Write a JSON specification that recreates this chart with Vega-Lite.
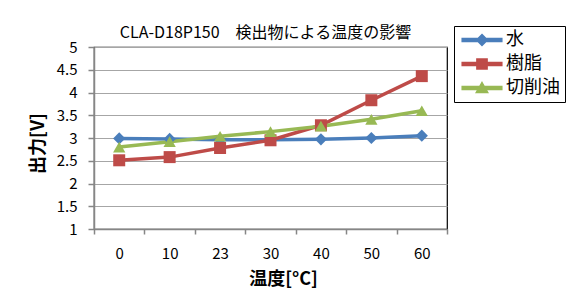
{
  "$schema": "https://vega.github.io/schema/vega-lite/v6.json",
  "width": 353,
  "height": 182,
  "autosize": "none",
  "padding": {"left": 94, "top": 47, "right": 134, "bottom": 66},
  "background": "white",
  "title": {
    "text": "CLA-D18P150　検出物による温度の影響",
    "fontSize": 16,
    "font": "Noto Sans CJK JP",
    "fontWeight": "normal",
    "color": "#000",
    "anchor": "middle",
    "offset": 6,
    "dy": 21,
    "dx": -5
  },
  "data": {
    "values": [
      {"temp": "0", "series": "水", "v": 2.99},
      {"temp": "10", "series": "水", "v": 2.98},
      {"temp": "23", "series": "水", "v": 2.96},
      {"temp": "30", "series": "水", "v": 2.96},
      {"temp": "40", "series": "水", "v": 2.97},
      {"temp": "50", "series": "水", "v": 3.0},
      {"temp": "60", "series": "水", "v": 3.05},
      {"temp": "0", "series": "樹脂", "v": 2.51},
      {"temp": "10", "series": "樹脂", "v": 2.58},
      {"temp": "23", "series": "樹脂", "v": 2.78},
      {"temp": "30", "series": "樹脂", "v": 2.95},
      {"temp": "40", "series": "樹脂", "v": 3.28},
      {"temp": "50", "series": "樹脂", "v": 3.83},
      {"temp": "60", "series": "樹脂", "v": 4.36},
      {"temp": "0", "series": "切削油", "v": 2.8},
      {"temp": "10", "series": "切削油", "v": 2.92},
      {"temp": "23", "series": "切削油", "v": 3.04},
      {"temp": "30", "series": "切削油", "v": 3.14},
      {"temp": "40", "series": "切削油", "v": 3.26},
      {"temp": "50", "series": "切削油", "v": 3.41},
      {"temp": "60", "series": "切削油", "v": 3.6}
    ]
  },
  "encoding": {
    "x": {
      "field": "temp",
      "type": "ordinal",
      "sort": ["0", "10", "23", "30", "40", "50", "60"],
      "scale": {"paddingInner": 0, "paddingOuter": 0},
      "axis": {
        "title": "温度[°C]",
        "labelAngle": 0,
        "labelFontSize": 15,
        "labelFont": "Noto Sans CJK JP",
        "labelColor": "#000",
        "labelPadding": 12,
        "tickBand": "extent",
        "tickSize": 5,
        "tickColor": "#868686",
        "tickWidth": 1.5,
        "domainColor": "#868686",
        "domainWidth": 1.5,
        "grid": false,
        "titleFontSize": 18,
        "titleFont": "Noto Sans CJK JP",
        "titleFontWeight": "bold",
        "titleColor": "#000",
        "titlePadding": 9,
        "titleX": 189,
        "titleAnchor": "middle"
      }
    },
    "y": {
      "field": "v",
      "type": "quantitative",
      "scale": {"domain": [1, 5], "nice": false, "zero": false},
      "axis": {
        "title": "出力[V]",
        "values": [1, 1.5, 2, 2.5, 3, 3.5, 4, 4.5, 5],
        "format": "~g",
        "labelFontSize": 15,
        "labelFont": "Noto Sans CJK JP",
        "labelColor": "#000",
        "labelPadding": 11,
        "tickSize": 6,
        "tickColor": "#868686",
        "tickWidth": 1.5,
        "domainColor": "#868686",
        "domainWidth": 1.5,
        "grid": true,
        "gridColor": "#a6a6a6",
        "gridWidth": 1.2,
        "titleFontSize": 18,
        "titleFont": "Noto Sans CJK JP",
        "titleFontWeight": "bold",
        "titleColor": "#000",
        "titlePadding": 9,
        "titleY": 96,
        "titleAnchor": "middle"
      }
    },
    "color": {
      "field": "series",
      "type": "nominal",
      "scale": {"domain": ["水", "樹脂", "切削油"], "range": ["#4a7ebb", "#be4b48", "#98b954"]},
      "legend": {
        "title": null,
        "orient": "none",
        "legendX": 360,
        "legendY": -21,
        "strokeColor": "#000",
        "fillColor": "#fff",
        "padding": 5,
        "labelFontSize": 18,
        "labelFont": "Noto Sans CJK JP",
        "labelColor": "#000",
        "symbolSize": 144,
        "symbolOffset": 14,
        "labelOffset": 15,
        "rowPadding": 6,
        "symbolOpacity": 1
      }
    }
  },
  "layer": [
    {
      "mark": {"type": "line", "strokeWidth": 3.5}
    },
    {
      "transform": [{"filter": "datum.series === '水'"}],
      "mark": {"type": "point", "filled": true, "opacity": 1, "size": 150, "shape": "diamond"}
    },
    {
      "transform": [{"filter": "datum.series === '樹脂'"}],
      "mark": {"type": "point", "filled": true, "opacity": 1, "size": 144, "shape": "square"}
    },
    {
      "transform": [{"filter": "datum.series === '切削油'"}],
      "mark": {"type": "point", "filled": true, "opacity": 1, "size": 150, "shape": "triangle-up"}
    },
    {
      "transform": [{"filter": "datum.v > 100"}],
      "mark": {"type": "point", "filled": true, "opacity": 1},
      "encoding": {
        "shape": {
          "field": "series",
          "type": "nominal",
          "scale": {
            "domain": ["水", "樹脂", "切削油"],
            "range": [
              "M-3.3,-0.24H3.3V0.24H-3.3Z M0,-0.9L0.9,0L0,0.9L-0.9,0Z",
              "M-3.3,-0.24H3.3V0.24H-3.3Z M-0.85,-0.85H0.85V0.85H-0.85Z",
              "M-3.3,-0.24H3.3V0.24H-3.3Z M0,-0.9L0.95,0.75H-0.95Z"
            ]
          },
          "legend": {
            "title": null,
            "orient": "none",
            "legendX": 360,
            "legendY": -21,
            "strokeColor": "#000",
            "fillColor": "#fff",
            "padding": 5,
            "labelFontSize": 18,
            "labelFont": "Noto Sans CJK JP",
            "labelColor": "#000",
            "symbolSize": 144,
            "symbolOffset": 14,
            "labelOffset": 15,
            "rowPadding": 6,
            "symbolOpacity": 1
          }
        }
      }
    }
  ],
  "config": {
    "view": {"stroke": "#000", "strokeWidth": 1.2}
  }
}
